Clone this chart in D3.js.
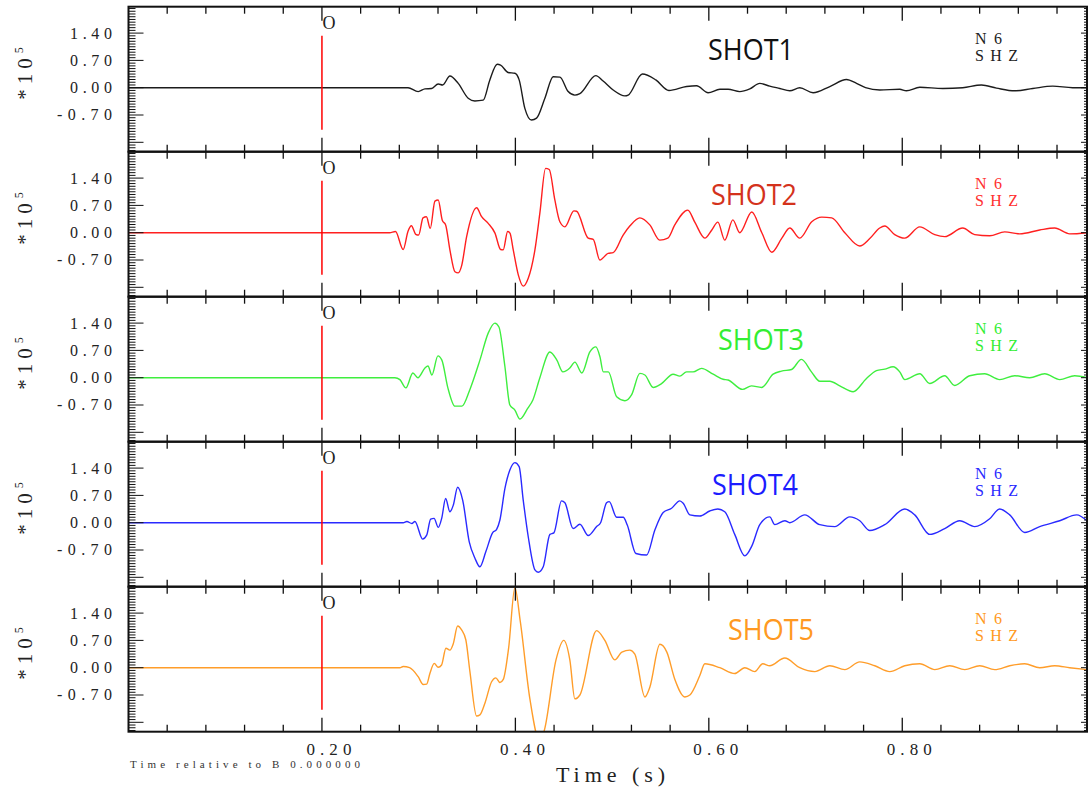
<!DOCTYPE html>
<html>
<head>
<meta charset="utf-8">
<script src="https://cdn.jsdelivr.net/npm/d3@7"></script>
<style>
  body { margin: 0; background: #fff; }
  svg { display: block; }
</style>
</head>
<body>
<div id="chart"></div>
<script>
// trace samples: [time (s), amplitude (*10^5)]
const shot1 = [
  [0, 0], [0.289, 0], [0.2995, -0.10], [0.3065, -0.03], [0.3134, -0.02], [0.3202, 0.095], [0.3248, 0.07],
  [0.3323, 0.30], [0.3409, 0.11], [0.3512, -0.27], [0.3581, -0.34], [0.3667, -0.32], [0.3736, 0.20],
  [0.3812, 0.60], [0.3847, 0.58], [0.3926, 0.39], [0.3995, 0.37], [0.4039, 0.20], [0.4098, -0.53],
  [0.4167, -0.83], [0.4219, -0.78], [0.4305, -0.27], [0.4391, 0.28], [0.4460, 0.27], [0.4546, -0.10],
  [0.4615, -0.19], [0.4667, -0.15], [0.4832, 0.31], [0.4907, 0.17], [0.5011, -0.06], [0.5132, -0.21],
  [0.5166, -0.19], [0.5313, 0.35], [0.5452, 0.20], [0.5587, -0.07], [0.5770, 0.03], [0.5873, 0.05],
  [0.5993, -0.13], [0.6114, -0.04], [0.6199, -0.04], [0.6320, -0.10], [0.6424, -0.03], [0.6527, 0.11],
  [0.6630, 0.04], [0.6734, -0.02], [0.6837, -0.08], [0.6940, 0], [0.7078, -0.13], [0.7251, 0.03],
  [0.7423, 0.21], [0.7527, 0.11], [0.762, 0.0], [0.7767, -0.06], [0.7974, -0.04], [0.8043, -0.08],
  [0.8181, 0.01], [0.8419, -0.02], [0.8625, 0.0], [0.8819, 0.07], [0.8974, -0.01], [0.9163, -0.08],
  [0.9349, -0.02], [0.9556, 0.04], [0.9762, 0.0], [0.991, 0.0]
];
const shot2 = [
  [0, 0], [0.270, 0], [0.276, 0.03], [0.284, -0.43], [0.289, 0.04], [0.2925, 0.18], [0.297, -0.04],
  [0.300, -0.06], [0.3045, 0.38], [0.308, 0.41], [0.312, 0.11], [0.3168, 0.81], [0.3202, 0.84],
  [0.3244, 0.32], [0.3279, 0.20], [0.3323, -0.44], [0.3375, -1.00], [0.3409, -1.03], [0.3444, -0.85],
  [0.3496, -0.10], [0.3599, 0.64], [0.3651, 0.41], [0.3719, 0.24], [0.3789, -0.01], [0.3847, -0.43],
  [0.3874, -0.44], [0.3920, 0.03], [0.3944, -0.01], [0.3978, -0.44], [0.4030, -1.08], [0.4082, -1.37],
  [0.4133, -1.17], [0.4202, -0.44], [0.4253, 0.50], [0.4312, 1.65], [0.4350, 1.62], [0.4408, 0.84],
  [0.4460, 0.28], [0.4512, 0.15], [0.4605, 0.56], [0.4633, 0.55], [0.4753, -0.14], [0.4805, -0.17],
  [0.4873, -0.70], [0.4959, -0.53], [0.5011, -0.51], [0.5114, -0.06], [0.5183, 0.17], [0.5287, 0.38],
  [0.5390, 0.20], [0.5493, -0.19], [0.5576, -0.14], [0.5648, 0.20], [0.5783, 0.58], [0.5855, 0.27],
  [0.5959, -0.14], [0.6031, 0.07], [0.6093, 0.27], [0.6165, -0.19], [0.6248, 0.33], [0.6320, 0.0],
  [0.6444, 0.53], [0.6548, 0.0], [0.6651, -0.50], [0.6755, -0.14], [0.6837, 0.12], [0.6940, -0.14],
  [0.7064, 0.28], [0.7168, 0.40], [0.7271, 0.38], [0.7406, 0.0], [0.7560, -0.34], [0.7664, -0.15],
  [0.7767, 0.12], [0.7819, 0.17], [0.7922, -0.05], [0.8026, -0.14], [0.8181, 0.15], [0.8336, -0.05],
  [0.8439, -0.10], [0.8625, 0.12], [0.8749, -0.05], [0.8904, -0.08], [0.9059, 0.02], [0.9214, -0.03],
  [0.9421, 0.07], [0.9576, 0.12], [0.9731, -0.03], [0.991, 0.0]
];
const shot3 = [
  [0, 0], [0.2754, 0], [0.2806, -0.05], [0.2868, -0.26], [0.2940, 0.12], [0.2992, 0.0], [0.3065, 0.25],
  [0.3096, 0.30], [0.3137, 0.07], [0.3199, 0.56], [0.3240, 0.45], [0.3302, -0.26], [0.3375, -0.73],
  [0.3447, -0.73], [0.3530, -0.30], [0.3633, 0.45], [0.3720, 1.15], [0.3788, 1.40], [0.3830, 1.30],
  [0.3891, 0.30], [0.3943, -0.70], [0.3995, -0.83], [0.4047, -1.06], [0.4129, -0.78], [0.4181, -0.57],
  [0.4253, 0.0], [0.4357, 0.66], [0.4429, 0.45], [0.4491, 0.15], [0.4563, 0.25], [0.4615, 0.40],
  [0.4687, 0.12], [0.4770, 0.66], [0.4832, 0.79], [0.4874, 0.54], [0.4909, 0.15], [0.4961, 0.15],
  [0.5047, -0.49], [0.5132, -0.59], [0.5201, -0.44], [0.5287, 0.11], [0.5339, 0.07], [0.5425, -0.25],
  [0.5511, -0.15], [0.5631, 0.09], [0.5700, 0.04], [0.5770, 0.15], [0.5838, 0.15], [0.5925, 0.24],
  [0.6045, 0.09], [0.6148, -0.04], [0.6199, -0.06], [0.6348, -0.30], [0.6441, -0.21], [0.6545, -0.25],
  [0.6665, 0.09], [0.6751, 0.17], [0.6855, 0.21], [0.6958, 0.47], [0.7061, 0.15], [0.7147, -0.09],
  [0.7251, -0.09], [0.7354, -0.21], [0.7492, -0.36], [0.7630, -0.02], [0.7733, 0.18], [0.7819, 0.22],
  [0.7905, 0.28], [0.7974, 0.15], [0.8026, -0.05], [0.8181, 0.10], [0.8284, -0.15], [0.8439, 0.05],
  [0.8542, -0.20], [0.8697, 0.05], [0.8852, 0.10], [0.9007, -0.05], [0.9163, 0.05], [0.9318, 0.0],
  [0.9473, 0.10], [0.9628, -0.05], [0.9783, 0.05], [0.991, 0.0]
];
const shot4 = [
  [0, 0], [0.2840, 0], [0.2878, 0.03], [0.2930, -0.02], [0.2961, 0.03], [0.3041, -0.42], [0.3083, -0.32],
  [0.3124, 0.09], [0.3159, 0.11], [0.3203, -0.12], [0.3238, 0.11], [0.3279, 0.62], [0.3323, 0.28],
  [0.3358, 0.45], [0.3403, 0.91], [0.3455, 0.58], [0.3523, -0.49], [0.3582, -0.91], [0.3633, -1.13],
  [0.3695, -0.74], [0.3764, -0.26], [0.3806, -0.17], [0.3840, 0.07], [0.3892, 0.88], [0.3943, 1.35],
  [0.3995, 1.54], [0.4039, 1.44], [0.4081, 0.58], [0.4133, -0.36], [0.4202, -1.21], [0.4236, -1.27],
  [0.4288, -1.13], [0.4357, -0.30], [0.4398, -0.26], [0.4477, 0.56], [0.4512, 0.51], [0.4597, -0.15],
  [0.4667, -0.04], [0.4753, -0.33], [0.4840, -0.10], [0.4881, 0.0], [0.4943, 0.51], [0.4970, 0.54],
  [0.5047, 0.14], [0.5115, 0.14], [0.5157, -0.06], [0.5246, -0.79], [0.5357, -0.83], [0.5442, -0.19],
  [0.5528, 0.26], [0.5615, 0.37], [0.5700, 0.56], [0.5735, 0.50], [0.5804, 0.20], [0.5907, 0.17],
  [0.6010, 0.30], [0.6093, 0.35], [0.6165, 0.28], [0.6268, -0.30], [0.6372, -0.85], [0.6444, -0.60],
  [0.6527, -0.05], [0.6630, 0.15], [0.6682, -0.05], [0.6786, 0.05], [0.6837, 0.0], [0.6992, 0.20],
  [0.7147, -0.05], [0.7302, -0.10], [0.7457, 0.15], [0.7561, 0.05], [0.7664, -0.20], [0.7819, -0.05],
  [0.8026, 0.35], [0.8129, 0.20], [0.8284, -0.30], [0.8439, -0.15], [0.8594, 0.05], [0.8749, -0.10],
  [0.8904, 0.10], [0.9007, 0.35], [0.9111, 0.20], [0.9266, -0.25], [0.9421, -0.10], [0.9628, 0.05],
  [0.9804, 0.20], [0.991, 0.05]
];
const shot5 = [
  [0, 0], [0.2806, 0], [0.2840, 0.03], [0.2906, 0.0], [0.2995, -0.23], [0.3047, -0.43], [0.3083, -0.42],
  [0.3116, -0.15], [0.3161, 0.11], [0.3202, 0.01], [0.3237, 0.07], [0.3282, 0.50], [0.3323, 0.45],
  [0.3357, 0.61], [0.3403, 1.07], [0.3444, 0.97], [0.3488, 0.71], [0.3530, -0.10], [0.3599, -1.24],
  [0.3633, -1.21], [0.3685, -0.91], [0.3754, -0.36], [0.3798, -0.26], [0.3840, -0.38], [0.3875, -0.30],
  [0.3930, 0.50], [0.3995, 2.05], [0.4050, 1.20], [0.4150, -0.80], [0.4253, -1.90], [0.4300, -1.60],
  [0.4420, 0.20], [0.4500, 0.70], [0.4563, 0.20], [0.4615, -0.80], [0.4667, -0.70], [0.4840, 0.95],
  [0.4925, 0.70], [0.5028, 0.20], [0.5101, 0.40], [0.5183, 0.45], [0.5235, 0.35], [0.5339, -0.75],
  [0.5390, -0.50], [0.5494, 0.60], [0.5566, 0.40], [0.5649, -0.30], [0.5752, -0.75], [0.5804, -0.70],
  [0.5907, -0.20], [0.5959, 0.10], [0.6114, 0.0], [0.6268, -0.15], [0.6372, 0.0], [0.6475, -0.10],
  [0.6558, 0.10], [0.6630, 0.05], [0.6785, 0.25], [0.6940, 0.0], [0.7095, -0.10], [0.7251, 0.05],
  [0.7406, -0.05], [0.7561, 0.15], [0.7716, 0.05], [0.7871, -0.10], [0.8026, 0.05], [0.8181, 0.10],
  [0.8336, -0.05], [0.8491, 0.05], [0.8646, -0.05], [0.8801, 0.05], [0.8956, -0.05], [0.9111, 0.05],
  [0.9266, 0.10], [0.9421, 0.0], [0.9576, 0.05], [0.9731, 0.0], [0.991, -0.05]
];

const traces = [shot1, shot2, shot3, shot4, shot5];
const shotNames = ["SHOT1", "SHOT2", "SHOT3", "SHOT4", "SHOT5"];
const stationLabel = ["N6", "SHZ"];
const yTickValues = [1.40, 0.70, 0.00, -0.70];
const yTickLabels = ["1.40", "0.70", "0.00", "-0.70"];
const xTickValues = [0.20, 0.40, 0.60, 0.80];
const xTickLabels = ["0.20", "0.40", "0.60", "0.80"];
const originTime = 0.20;       // "O" marker
const originSpan = [1.33, -1.08];
const timeDomain = [0, 0.991];
const ampDomain = [-1.641, 2.077];

// styling
const traceColors = ["#1c1c1c", "#ff1f1f", "#3fee3f", "#2a2aff", "#ff9d2a"];
const nameColors = ["#111111", "#d4321c", "#33ee33", "#1c1cff", "#ff9922"];
const stationColors = ["#222222", "#ff3030", "#33ee33", "#2a2aff", "#ff9922"];
const nameX = [708, 711, 718, 712, 728];

const W = 1090, H = 793;
const plotL = 128.5, plotR = 1087, plotTop = 6.7, panelH = 145;
const serif = "'Liberation Serif', 'Times New Roman', serif";
const sans = "'Open Sans', 'Noto Sans', sans-serif";

const svg = d3.select("#chart").append("svg")
    .attr("width", W).attr("height", H);

const x = d3.scaleLinear().domain(timeDomain).range([plotL, plotR]);
const y = d3.scaleLinear().domain(ampDomain).range([panelH, 0]);

svg.append("defs").append("clipPath").attr("id", "panel-clip")
  .append("rect").attr("x", plotL).attr("y", 0).attr("width", plotR - plotL).attr("height", panelH);

const minorX = d3.range(1, 25).map(i => +(i * 0.04).toFixed(2));
const minorY = d3.range(-23, 30).map(i => +(i * 0.07).toFixed(2)).filter(v => v > ampDomain[0] && v < ampDomain[1]);

traces.forEach((data, i) => {
    const g = svg.append("g").attr("transform", `translate(0,${plotTop + i * panelH})`);

    // trace
    const line = d3.line().x(d => x(d[0])).y(d => y(d[1])).curve(d3.curveMonotoneX);
    g.append("path")
        .datum(data)
        .attr("clip-path", "url(#panel-clip)")
        .attr("fill", "none")
        .attr("stroke", traceColors[i])
        .attr("stroke-width", 1.4)
        .attr("stroke-linejoin", "round")
        .attr("d", line);

    // origin marker
    g.append("line")
        .attr("x1", x(originTime)).attr("x2", x(originTime))
        .attr("y1", y(originSpan[0])).attr("y2", y(originSpan[1]))
        .attr("stroke", "#ff0000").attr("stroke-width", 1.5);
    g.append("text")
        .attr("x", x(originTime) + 0.5).attr("y", 22)
        .style("font-family", serif).style("font-size", "18px").style("fill", "#222")
        .text("O");

    // top / bottom ticks
    minorX.forEach(t => {
        const major = Math.abs(t / 0.2 - Math.round(t / 0.2)) < 1e-6;
        const len = major ? 14 : 7;
        g.append("line").attr("x1", x(t)).attr("x2", x(t)).attr("y1", 0).attr("y2", len)
            .attr("stroke", "#111").attr("stroke-width", 1.3);
        g.append("line").attr("x1", x(t)).attr("x2", x(t)).attr("y1", panelH).attr("y2", panelH - len)
            .attr("stroke", "#111").attr("stroke-width", 1.3);
    });

    // left / right ticks
    minorY.forEach(v => {
        const major = Math.abs(v / 0.7 - Math.round(v / 0.7)) < 1e-6;
        g.append("line").attr("x1", plotL).attr("x2", plotL + (major ? 15 : 7))
            .attr("y1", y(v)).attr("y2", y(v)).attr("stroke", "#111").attr("stroke-width", 1);
        g.append("line").attr("x1", plotR).attr("x2", plotR - (major ? 6 : 3))
            .attr("y1", y(v)).attr("y2", y(v)).attr("stroke", "#111").attr("stroke-width", 1);
    });

    // y tick labels
    yTickValues.forEach((v, k) => {
        const lab = yTickLabels[k];
        g.append("text")
            .attr("x", 112).attr("y", y(v) + 5.5)
            .attr("text-anchor", "end")
            .attr("textLength", lab.length > 4 ? 55 : 42)
            .attr("lengthAdjust", "spacing")
            .style("font-family", serif).style("font-size", "16px").style("fill", "#222")
            .text(lab);
    });

    // *10^5 label
    const unit = g.append("text")
        .attr("transform", "translate(32,93) rotate(-90)")
        .style("font-family", serif).style("font-size", "21px").style("fill", "#222");
    unit.append("tspan").text("*");
    unit.append("tspan").text("1").attr("dx", 5);
    unit.append("tspan").text("0").attr("dx", 5);
    unit.append("tspan").text("5").attr("dx", 5).attr("dy", -9).style("font-size", "12px");

    // panel frame
    g.append("rect").attr("x", plotL).attr("y", 0).attr("width", plotR - plotL).attr("height", panelH)
        .attr("fill", "none").attr("stroke", "#111").attr("stroke-width", 2);

    // shot name
    g.append("text")
        .attr("x", nameX[i]).attr("y", 53.5)
        .attr("textLength", 86).attr("lengthAdjust", "spacingAndGlyphs")
        .style("font-family", sans).style("font-size", "30px").style("fill", nameColors[i])
        .text(shotNames[i]);

    // station / component
    stationLabel.forEach((s, k) => {
        g.append("text")
            .attr("x", 975).attr("y", 37.5 + k * 16.5)
            .attr("textLength", k === 0 ? 27 : 43).attr("lengthAdjust", "spacing")
            .style("font-family", serif).style("font-size", "16px").style("fill", stationColors[i])
            .text(s);
    });
});

// x tick labels
const bottomY = plotTop + 5 * panelH;
xTickValues.forEach((t, k) => {
    svg.append("text")
        .attr("x", x(t) - 15.5).attr("y", bottomY + 23.5)
        .attr("textLength", 45).attr("lengthAdjust", "spacing")
        .style("font-family", serif).style("font-size", "17px").style("fill", "#222")
        .text(xTickLabels[k]);
});

svg.append("text")
    .attr("x", 130).attr("y", bottomY + 36)
    .attr("textLength", 230).attr("lengthAdjust", "spacing")
    .style("font-family", serif).style("font-size", "11px").style("fill", "#333")
    .text("Time relative to B 0.000000");

svg.append("text")
    .attr("x", 556).attr("y", bottomY + 50)
    .attr("textLength", 109).attr("lengthAdjust", "spacing")
    .style("font-family", serif).style("font-size", "22px").style("fill", "#222")
    .text("Time (s)");
</script>
</body>
</html>
